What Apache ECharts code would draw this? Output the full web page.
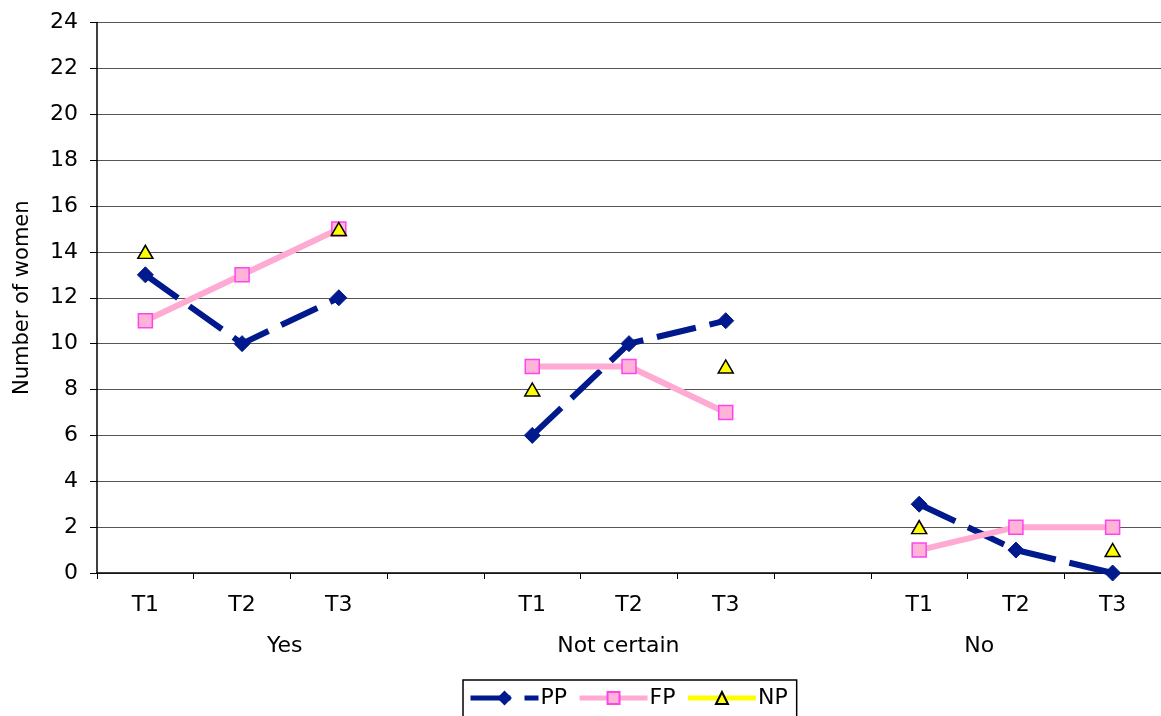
<!DOCTYPE html>
<html>
<head>
<meta charset="utf-8">
<script src="https://cdn.jsdelivr.net/npm/echarts@6/dist/echarts.min.js"></script>
<style>
  html, body { margin: 0; padding: 0; background: #fff; }
  #chart { width: 1161px; height: 716px; }
</style>
</head>
<body>
<div id="chart"></div>
<script>
// Time points within each answer group; empty slots separate the groups
const categories = ['T1', 'T2', 'T3', '', 'T1', 'T2', 'T3', '', 'T1', 'T2', 'T3'];
const groupNames = ['Yes', 'Not certain', 'No'];

// Number of women per group and time point
const ppValues = [13, 10, 12, null, 6, 10, 11, null, 3, 1, 0];
const fpValues = [11, 13, 15, null, 9, 9, 7, null, 1, 2, 2];
const npValues = [14, null, 15, null, 8, null, 9, null, 2, null, 1];

const yTicks = { min: 0, max: 24, interval: 2 };

// Where each group caption sits along the category span (in category units)
const groupCentres = [1.94, 5.39, 9.12];

const FONT = 'DejaVu Sans';
const FS = 22;
const chart = echarts.init(document.getElementById('chart'));

chart.setOption({
  animation: false,
  backgroundColor: '#ffffff',
  textStyle: { fontFamily: FONT },
  grid: { left: 97, right: -3, top: 22.5, bottom: 143, containLabel: false },
  legend: {
    left: 463,
    top: 680,
    padding: [7, 9, 14, 5],
    borderColor: '#000',
    borderWidth: 1.5,
    backgroundColor: '#fff',
    itemGap: 10,
    itemWidth: 68,
    itemHeight: 15,
    lineStyle: { width: 5 },
    textStyle: { fontFamily: FONT, fontSize: FS, color: '#000', padding: [0, 0, 0, -3] },
    data: ['PP', 'FP', 'NP']
  },
  xAxis: [
    {
      type: 'category',
      data: categories,
      boundaryGap: true,
      axisLine: { lineStyle: { color: '#000', width: 1.5 } },
      axisTick: { show: true, length: 6, lineStyle: { color: '#000', width: 1 } },
      axisLabel: { color: '#000', fontSize: FS, fontFamily: FONT, margin: 21, interval: 0 },
      splitLine: { show: false }
    },
    {
      type: 'value',
      position: 'bottom',
      min: 0,
      max: categories.length,
      axisLine: { show: false },
      axisTick: { show: false },
      splitLine: { show: false },
      axisLabel: {
        color: '#000', fontSize: FS, fontFamily: FONT, margin: 62,
        customValues: groupCentres,
        formatter: function (v) {
          const i = groupCentres.indexOf(v);
          return i >= 0 ? groupNames[i] : '';
        }
      }
    }
  ],
  yAxis: {
    type: 'value',
    min: yTicks.min,
    max: yTicks.max,
    interval: yTicks.interval,
    name: 'Number of women',
    nameLocation: 'middle',
    nameRotate: 90,
    nameGap: 64,
    nameTextStyle: { color: '#000', fontSize: 21, fontFamily: FONT },
    axisLine: { show: true, lineStyle: { color: '#000', width: 1.5 } },
    axisTick: { show: true, length: 7, lineStyle: { color: '#000', width: 1 } },
    axisLabel: { color: '#000', fontSize: FS, fontFamily: FONT, margin: 19 },
    splitLine: { show: true, lineStyle: { color: '#555', width: 1 } }
  },
  series: [
    {
      name: 'PP',
      type: 'line',
      data: ppValues,
      connectNulls: false,
      symbol: 'diamond',
      symbolSize: 16,
      itemStyle: { color: '#00198c', borderColor: '#00198c', borderWidth: 1 },
      lineStyle: { color: '#00198c', width: 6, type: [40, 14] },
      z: 3
    },
    {
      name: 'FP',
      type: 'line',
      data: fpValues,
      connectNulls: false,
      symbol: 'rect',
      symbolSize: 14,
      itemStyle: { color: '#ffb3d6', borderColor: '#ff44ee', borderWidth: 1.5 },
      lineStyle: { color: '#ffaad2', width: 6 },
      z: 4
    },
    {
      name: 'NP',
      type: 'line',
      data: npValues,
      connectNulls: false,
      symbol: 'triangle',
      symbolSize: [15, 13],
      itemStyle: { color: '#ffff00', borderColor: '#000', borderWidth: 1.5 },
      lineStyle: { color: '#ffff00', width: 6 },
      z: 5
    }
  ]
});
</script>
</body>
</html>
